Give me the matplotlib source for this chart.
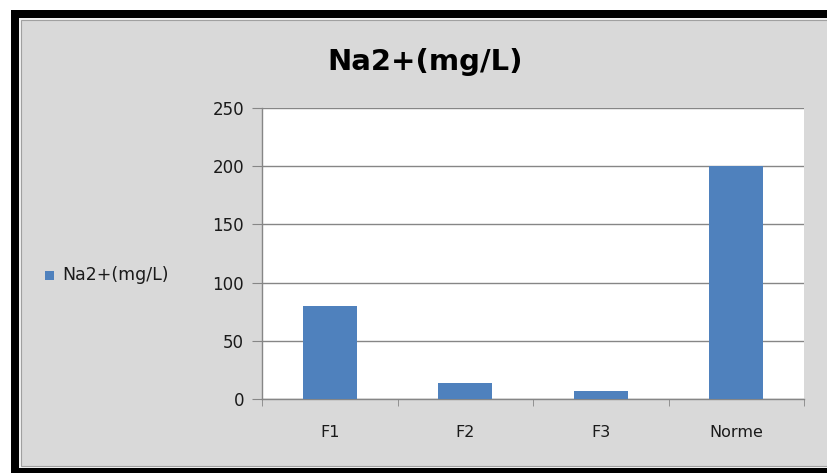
import matplotlib
matplotlib.use('Agg')
import matplotlib.pyplot as plt
from matplotlib.patches import Rectangle
import numpy as np

# data
categories = ['F1', 'F2', 'F3', 'Norme']
na_values = [80, 14, 7, 200]
yticks = [0, 50, 100, 150, 200, 250]
series_name = 'Na2+(mg/L)'

W, H = 827, 473
fig = plt.figure(figsize=(W / 100, H / 100), dpi=100)
fig.patch.set_facecolor('white')

# black frame and grey chart area (pixel coords -> figure fraction)
def px(x0, y0, x1, y1):
    return (x0 / W, 1 - y1 / H), (x1 - x0) / W, (y1 - y0) / H

xy, w, h = px(11, 10, 840, 480)
fig.patches.append(Rectangle(xy, w, h, transform=fig.transFigure, facecolor='black', edgecolor='none', zorder=-10))
xy, w, h = px(19, 18, 835, 468)
fig.patches.append(Rectangle(xy, w, h, transform=fig.transFigure, facecolor='#f2f2f2', edgecolor='none', zorder=-9))
xy, w, h = px(21, 20, 835, 466)
fig.patches.append(Rectangle(xy, w, h, transform=fig.transFigure, facecolor='#d9d9d9', edgecolor='#a0a0a0', linewidth=0.8, zorder=-8))

ax = fig.add_axes([262 / W, (H - 399) / H, 542 / W, 291 / H])
ax.set_zorder(1)
ax.set_facecolor('white')
x = np.arange(len(categories))
ax.bar(x, na_values, width=0.4, color='#4f81bd', zorder=3)

ax.set_ylim(0, 250)
ax.set_yticks(yticks)
ax.set_xlim(-0.5, len(categories) - 0.5)
ax.set_xticks(x)
ax.set_xticklabels(categories)
ax.set_xticks(np.arange(-0.5, len(categories)), minor=True)
ax.tick_params(axis='x', which='major', length=0, pad=19, labelsize=11.5, labelcolor='#1a1a1a')
ax.tick_params(axis='x', which='minor', length=5, color='#868686', direction='out')
ax.tick_params(axis='y', length=7, color='#868686', pad=6, labelsize=12, labelcolor='#1a1a1a')

ax.grid(axis='y', color='#868686', linewidth=1, zorder=0)
for s in ['top', 'right']:
    ax.spines[s].set_visible(False)
for s in ['left', 'bottom']:
    ax.spines[s].set_color('#868686')
    ax.spines[s].set_linewidth(1)

fig.text(425 / W, 1 - 62 / H, series_name, ha='center', va='center', fontsize=21, fontweight='bold', color='black')

# legend on the left
fig.patches.append(Rectangle((45 / W, 1 - 280 / H), 9 / W, 9 / H, transform=fig.transFigure, facecolor='#4f81bd', edgecolor='none'))
fig.text(62 / W, 1 - 275 / H, series_name, ha='left', va='center', fontsize=12.5, color='#1a1a1a')

fig.savefig('out.png', dpi=100)
